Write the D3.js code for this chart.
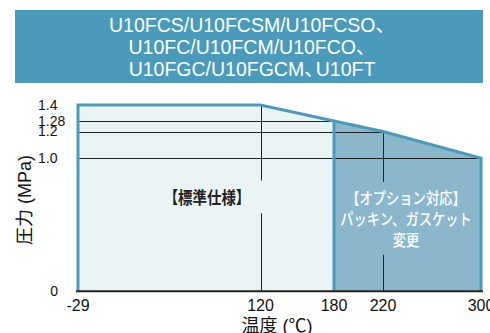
<!DOCTYPE html>
<html>
<head>
<meta charset="utf-8">
<script src="https://cdn.jsdelivr.net/npm/d3@7"></script>
<style>
  body { margin: 0; background: #fff; }
  svg { display: block; font-family: "Liberation Sans", Arial, "Noto Sans CJK JP", sans-serif; }
  .jp { font-family: "Noto Sans CJK JP", sans-serif; }
</style>
</head>
<body>
<svg id="canvas" width="490" height="333"></svg>
<script>
'use strict';

// header lines
const titleLines = ['U10FCS/U10FCSM/U10FCSO、', 'U10FC/U10FCM/U10FCO、', 'U10FGC/U10FGCM、U10FT'];

// pressure / temperature envelope
const tempPoints = [-29, 120, 180, 220, 300];
const pressPoints = [1.4, 1.4, 1.28, 1.2, 1.0];

const xTicks = [-29, 120, 180, 220, 300];
const yTicks = [0, 1.0, 1.2, 1.28, 1.4];
const yTickLabels = ['0', '1.0', '1.2', '1.28', '1.4'];

const standardLimit = 180;
const standardLabel = ['【標準仕様】'];
const optionLabel = ['【オプション対応】', 'パッキン、ガスケット', '変更'];

const xTitle = '温度 (℃)';
const yTitle = '圧力 (MPa)';

function Main() {
  const svg = d3.select('#canvas');
  const kBlue = '#4a9bbb';

  // header box
  svg.append('rect')
      .attr('x', 15).attr('y', 10).attr('width', 468).attr('height', 73)
      .attr('fill', kBlue);
  titleLines.forEach(function(txt, i) {
    const t = svg.append('text')
        .attr('x', 252)
        .attr('y', 32 + i * 22)
        .attr('fill', '#fff')
        .attr('font-size', 19.5)
        .attr('text-anchor', 'middle');
    // tighten the space after an inner "、"
    const parts = txt.split('、');
    parts.forEach(function(p, j) {
      if (p === '' && j === parts.length - 1) return;
      const last = j === parts.length - 1;
      t.append('tspan')
          .attr('dx', j > 0 ? -8 : 0)
          .text(p + (last ? '' : '、'));
    });
  });

  const x = d3.scaleLinear().domain([-29, 300]).range([78, 481]);
  const y = d3.scaleLinear().domain([0, 1.4]).range([290.7, 105]);

  const pts = tempPoints.map(function(t, i) { return [t, pressPoints[i]]; });
  const area = d3.area()
      .x(function(d) { return x(d[0]); })
      .y0(y(0))
      .y1(function(d) { return y(d[1]); });

  const stdPts = pts.filter(function(d) { return d[0] <= standardLimit; });
  const optPts = pts.filter(function(d) { return d[0] >= standardLimit; });

  svg.append('path').datum(stdPts).attr('d', area).attr('fill', '#ebf4f4');
  svg.append('path').datum(optPts).attr('d', area).attr('fill', '#8bb7cd');

  // grid lines: horizontal from left edge to the envelope, vertical from 0 up
  const g = svg.append('g').attr('stroke', '#222').attr('stroke-width', 1);
  pts.forEach(function(d, i) {
    if (i === 0) return;
    if (d[1] < 1.4) {
      g.append('line')
          .attr('x1', x(-29)).attr('x2', x(d[0]))
          .attr('y1', Math.round(y(d[1])) + 0.5).attr('y2', Math.round(y(d[1])) + 0.5);
    }
    if (d[0] !== standardLimit && d[0] < 300) {
      g.append('line')
          .attr('x1', Math.round(x(d[0])) + 0.5).attr('x2', Math.round(x(d[0])) + 0.5)
          .attr('y1', y(d[1])).attr('y2', y(0));
    }
  });

  // labels (horizontally condensed) with background boxes that break the grid lines
  function label(lines, cx, cy, sx, size, weight, color, bg, padX, padY) {
    const grp = svg.append('g')
        .attr('transform', 'translate(' + cx + ',0) scale(' + sx + ',1) translate(' + (-cx) + ',0)');
    const box = grp.append('rect').attr('fill', bg);
    const t = grp.append('text')
        .attr('class', 'jp')
        .attr('fill', color)
        .attr('font-size', size)
        .attr('font-weight', weight)
        .attr('text-anchor', 'middle');
    t.selectAll('tspan')
        .data(lines)
      .enter().append('tspan')
        .attr('x', cx)
        .attr('y', function(d, i) { return cy + i * 21; })
        .text(function(d) { return d; });
    const bb = t.node().getBBox();
    box.attr('x', bb.x - padX).attr('y', bb.y - padY)
        .attr('width', bb.width + 2 * padX).attr('height', bb.height + 2 * padY);
  }
  label(standardLabel, 207, 204, 0.85, 17, 700, '#222', '#ebf4f4', 14, 4);
  label(optionLabel, 406, 204.5, 0.83, 16, 500, '#fff', '#8bb7cd', 4, 4);

  // blue outline
  const line = d3.line()
      .x(function(d) { return x(d[0]); })
      .y(function(d) { return y(d[1]); });
  const outline = [[-29, 0]].concat(pts, [[300, 0]]);
  svg.append('path').datum(outline)
      .attr('d', line)
      .attr('fill', 'none')
      .attr('stroke', kBlue)
      .attr('stroke-width', 3);
  svg.append('line')
      .attr('x1', x(standardLimit)).attr('x2', x(standardLimit))
      .attr('y1', y(1.28)).attr('y2', y(0))
      .attr('stroke', kBlue).attr('stroke-width', 3);

  // base axis
  svg.append('line')
      .attr('x1', 76).attr('x2', 483)
      .attr('y1', y(0) + 0.5).attr('y2', y(0) + 0.5)
      .attr('stroke', '#222').attr('stroke-width', 2);

  // y tick labels
  svg.append('g').selectAll('text')
      .data(yTicks)
    .enter().append('text')
      .attr('x', function(d) { return d === 0 ? 58 : 38; })
      .attr('y', function(d) { return y(d); })
      .attr('dy', '0.35em')
      .attr('text-anchor', function(d) { return d === 0 ? 'end' : 'start'; })
      .attr('font-size', 14)
      .attr('fill', '#111')
      .text(function(d, i) { return yTickLabels[i]; });

  // x tick labels
  svg.append('g').selectAll('text')
      .data(xTicks)
    .enter().append('text')
      .attr('x', function(d) { return x(d); })
      .attr('y', 311)
      .attr('text-anchor', 'middle')
      .attr('font-size', 16)
      .attr('fill', '#111')
      .text(function(d) { return d; });

  svg.append('text')
      .attr('x', 277).attr('y', 332)
      .attr('text-anchor', 'middle')
      .attr('font-size', 18)
      .attr('fill', '#111')
      .text(xTitle);

  svg.append('text')
      .attr('transform', 'translate(31,200) rotate(-90)')
      .attr('text-anchor', 'middle')
      .attr('font-size', 18)
      .attr('fill', '#111')
      .text(yTitle);
}

Main();
</script>
</body>
</html>
